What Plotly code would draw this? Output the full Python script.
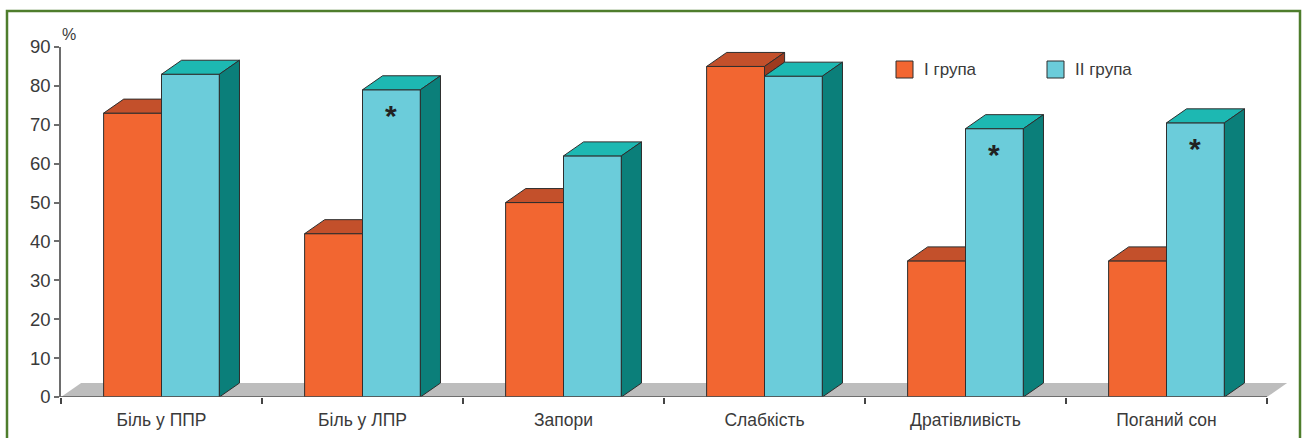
import plotly.graph_objects as go

# Symptom frequency (%) by group
categories = ["Біль у ППР", "Біль у ЛПР", "Запори", "Слабкість", "Дратівливість", "Поганий сон"]
group1 = [73, 42, 50, 85, 35, 35]
group2 = [83, 79, 62, 82.5, 69, 70.5]
marked = [False, True, False, False, True, True]
series_names = ["I група", "II група"]
y_ticks = list(range(0, 100, 10))

W, H = 1304, 438
ML, MR, MT, MB = 61, 10, 47, 41
PITCH = 201.0                      # px per category
X_MAX = (W - ML - MR) / PITCH - 0.5
BAR_W = 0.288                      # bar width in category units
DX, DY = 0.1, 3.6                  # box depth offset (x units, y units)

EDGE = "#2e2e2e"
ORANGE = dict(front="#F26631", top="#C3502B", side="#9E3B1F")
CYAN = dict(front="#6BCCDA", top="#1DB8B2", side="#0B7F7A")
TEXT = "#3a3a3a"


def px_x(px):
    return (px - ML) / (W - ML - MR)


def px_y(py):
    return (H - MB - py) / (H - MT - MB)


def polys(shapes, color):
    xs, ys = [], []
    for pts in shapes:
        xs += [p[0] for p in pts] + [pts[0][0], None]
        ys += [p[1] for p in pts] + [pts[0][1], None]
    return go.Scatter(x=xs, y=ys, mode="lines", fill="toself", fillcolor=color,
                      line=dict(color=EDGE, width=1), hoverinfo="skip",
                      showlegend=False)


idx = list(range(len(categories)))
fig = go.Figure()

# front faces
fig.add_trace(go.Bar(x=idx, y=group1, width=BAR_W, offset=-BAR_W, name=series_names[0],
                     marker=dict(color=ORANGE["front"], line=dict(color=EDGE, width=1)),
                     showlegend=False))
fig.add_trace(go.Bar(x=idx, y=group2, width=BAR_W, offset=0, name=series_names[1],
                     marker=dict(color=CYAN["front"], line=dict(color=EDGE, width=1)),
                     showlegend=False))

# depth faces of the first series (only the parts not hidden by the second box)
o_top, o_side = [], []
for i, (a, b) in enumerate(zip(group1, group2)):
    l = i - BAR_W
    if b >= a + DY:
        o_top.append([(l, a), (i, a), (i, a + DY), (l + DX, a + DY)])
    else:
        o_top.append([(l, a), (i, a), (i + DX, a + DY), (l + DX, a + DY)])
        if a > b:
            o_side.append([(i, b), (i, a), (i + DX, a + DY), (i + DX, b + DY)])
fig.add_trace(polys(o_top, ORANGE["top"]))
if o_side:
    fig.add_trace(polys(o_side, ORANGE["side"]))

# depth faces of the second series
c_top, c_side = [], []
for i, b in enumerate(group2):
    r = i + BAR_W
    c_top.append([(i, b), (r, b), (r + DX, b + DY), (i + DX, b + DY)])
    c_side.append([(r, 0), (r, b), (r + DX, b + DY), (r + DX, DY)])
fig.add_trace(polys(c_top, CYAN["top"]))
fig.add_trace(polys(c_side, CYAN["side"]))

shapes = [
    # floor
    dict(type="path", xref="x", yref="y", layer="below",
         path=f"M -0.5,0 L 5.5,0 L {5.5 + DX},{DY} L {-0.5 + DX},{DY} Z",
         fillcolor="#BDBDBD", line=dict(width=0)),
    # front edge of the floor
    dict(type="line", xref="x", yref="y", x0=-0.5, x1=5.5, y0=0, y1=0,
         line=dict(color="#555555", width=1.5)),
    # outer frame
    dict(type="rect", xref="paper", yref="paper",
         x0=px_x(7), x1=px_x(1300), y0=px_y(445), y1=px_y(11),
         line=dict(color="#4E7D2C", width=2.5), fillcolor="rgba(0,0,0,0)"),
]

# legend
annotations = []
for k, (name, col) in enumerate(zip(series_names, [ORANGE["front"], CYAN["front"]])):
    x0 = [896, 1047][k]
    shapes.append(dict(type="rect", xref="paper", yref="paper",
                       x0=px_x(x0), x1=px_x(x0 + 17), y0=px_y(78), y1=px_y(61),
                       fillcolor=col, line=dict(color=EDGE, width=1)))
    annotations.append(dict(xref="paper", yref="paper", x=px_x(x0 + 26), y=px_y(69.5),
                            text=name, showarrow=False, xanchor="left", yanchor="middle",
                            font=dict(size=17, color=TEXT)))

# significance marks
for i, flag in enumerate(marked):
    if flag:
        annotations.append(dict(x=i + BAR_W / 2, y=group2[i], text="<b>*</b>", showarrow=False,
                                xanchor="center", yanchor="top", yshift=-7,
                                font=dict(size=30, color="#222222")))

annotations.append(dict(xref="paper", yref="paper", x=px_x(69), y=px_y(34), text="%",
                        showarrow=False, xanchor="center", yanchor="middle",
                        font=dict(size=16, color=TEXT)))

fig.update_layout(
    width=W, height=H,
    margin=dict(l=ML, r=MR, t=MT, b=MB),
    paper_bgcolor="white", plot_bgcolor="white",
    barmode="overlay",
    font=dict(family="Liberation Sans, Arial, sans-serif", color=TEXT),
    shapes=shapes, annotations=annotations,
    xaxis=dict(range=[-0.5, X_MAX], tickmode="array", tickvals=idx, ticktext=categories,
               ticks="", showline=False, showgrid=False, zeroline=False, automargin=False,
               tickfont=dict(size=17.5, color=TEXT), ticklabelstandoff=10,
               minor=dict(tickmode="array", tickvals=[k - 0.5 for k in range(len(categories) + 1)],
                          ticks="outside", ticklen=6, tickwidth=1.5, tickcolor="#444444",
                          showgrid=False)),
    yaxis=dict(range=[0, 90], tickmode="array", tickvals=y_ticks, automargin=False,
               showline=True, linecolor="#6d6d6d", linewidth=1.5,
               ticks="outside", ticklen=5, tickwidth=1.5, tickcolor="#6d6d6d",
               showgrid=False, zeroline=False,
               tickfont=dict(size=18.5, color=TEXT)),
)

fig.write_html("out.html")
